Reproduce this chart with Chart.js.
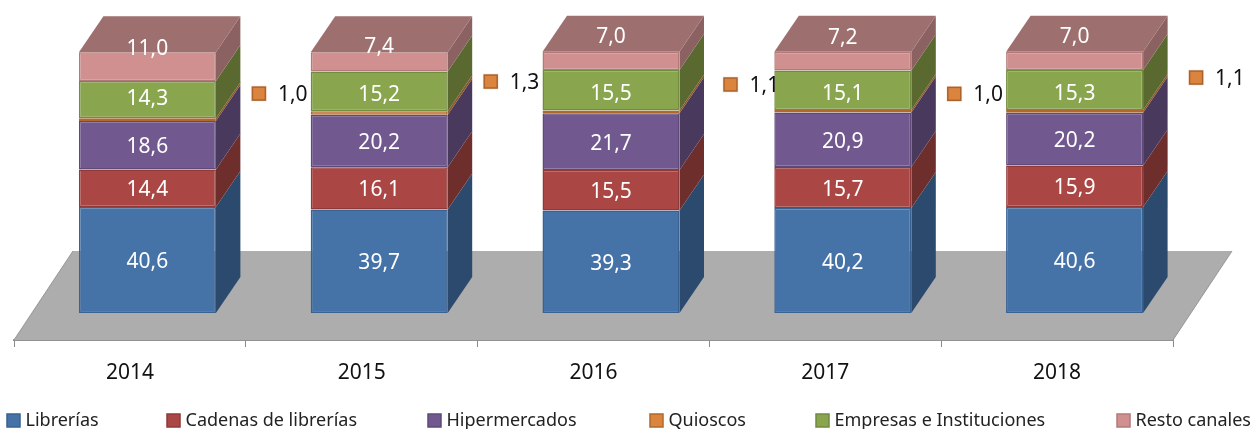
<!DOCTYPE html>
<html><head><meta charset="utf-8">
<style>html,body{margin:0;padding:0;background:#fff;overflow:hidden}canvas{display:block}</style>
<script src="https://cdn.jsdelivr.net/npm/chart.js@4"></script>
</head><body><canvas id="c" width="1256" height="429"></canvas>
<script>
const years = ['2014','2015','2016','2017','2018'];
const librerias = [40.6,39.7,39.3,40.2,40.6];
const cadenas = [14.4,16.1,15.5,15.7,15.9];
const hipermercados = [18.6,20.2,21.7,20.9,20.2];
const quioscos = [1.0,1.3,1.1,1.0,1.1];
const empresas = [14.3,15.2,15.5,15.1,15.3];
const resto = [11.0,7.4,7.0,7.2,7.0];
const seriesNames = ['Librerías','Cadenas de librerías','Hipermercados','Quioscos','Empresas e Instituciones','Resto canales'];

const FONT = '"Noto Sans"';
const fills  = ['#4573A8','#AA4643','#71588F','#DB843D','#89A54E','#D09090'];
const edges  = ['#3A6290','#8F3A38','#5E4979','#B0682C','#728B40','#B27A7A'];
const sides  = ['#2C4A6E','#6E2E2C','#49395D','#8F5628','#59692F','#8B6161'];
const topFace = '#9E6F6F';
const DX = 24.5, DY = 36, BAR_SHIFT = 17.5;
const FLOOR_DX = 59, FLOOR_DY = 89;
// hand-placed label nudges and legend slots from the reference
const topLabelNudge = [-18,-15,-24,-23,-24];
const greenLabelNudge = [-1,4,4,4,4];
const keyNudgeX = [43,43,51,43,53];
const keyNudgeY = [-26,-31.4,-27.4,-17.4,-33.8];
const legendSlots = [7,167,428,650,816,1117];
const fmt = v => v.toFixed(1).replace('.',',');

const three = {
  id:'three',
  beforeDatasetsDraw(chart){
    const {ctx, chartArea:a} = chart;
    ctx.save();
    ctx.beginPath();
    ctx.moveTo(a.left,a.bottom);ctx.lineTo(a.right,a.bottom);
    ctx.lineTo(a.right+FLOOR_DX,a.bottom-FLOOR_DY);ctx.lineTo(a.left+FLOOR_DX,a.bottom-FLOOR_DY);
    ctx.closePath();
    ctx.fillStyle='#ADADAD';ctx.fill();
    ctx.beginPath();
    ctx.moveTo(a.left,a.bottom);ctx.lineTo(a.left+FLOOR_DX,a.bottom-FLOOR_DY);
    ctx.moveTo(a.right,a.bottom);ctx.lineTo(a.right+FLOOR_DX,a.bottom-FLOOR_DY);
    ctx.strokeStyle='#959595';ctx.lineWidth=1;ctx.stroke();
    ctx.restore();
    ctx.save();
    ctx.translate(BAR_SHIFT,0);
    chart.data.datasets.forEach((ds,i)=>{
      chart.getDatasetMeta(i).data.forEach(bar=>{
        const r=bar.x+bar.width/2,l=bar.x-bar.width/2;
        ctx.beginPath();
        ctx.moveTo(r,bar.base);ctx.lineTo(r+DX,bar.base-DY);ctx.lineTo(r+DX,bar.y-DY);ctx.lineTo(r,bar.y);ctx.closePath();
        ctx.fillStyle=sides[i];ctx.fill();
        if(i===chart.data.datasets.length-1){
          ctx.beginPath();
          ctx.moveTo(l,bar.y);ctx.lineTo(r,bar.y);ctx.lineTo(r+DX,bar.y-DY);ctx.lineTo(l+DX,bar.y-DY);ctx.closePath();
          ctx.fillStyle=topFace;ctx.fill();
        }
      });
    });
  },
  afterDatasetsDraw(chart){
    const {ctx}=chart;
    ctx.textAlign='center';ctx.textBaseline='middle';
    ctx.font='21px '+FONT;
    chart.data.datasets.forEach((ds,i)=>{
      chart.getDatasetMeta(i).data.forEach((bar,j)=>{
        const cy=(bar.y+bar.base)/2;
        if(i===3){
          const mx=bar.x+bar.width/2+keyNudgeX[j], my=cy+keyNudgeY[j];
          ctx.fillStyle='#FBEDE2';ctx.fillRect(mx-8,my-8,16,16);
          ctx.fillStyle=fills[3];ctx.fillRect(mx-6.5,my-6.5,13,13);
          ctx.strokeStyle='#A9622C';ctx.lineWidth=1.5;ctx.strokeRect(mx-6.5,my-6.5,13,13);
          ctx.fillStyle='#111';ctx.textAlign='left';
          ctx.fillText(fmt(ds.data[j]),mx+19,my+1.5);
          ctx.textAlign='center';
        }else{
          const nudge = i===5 ? topLabelNudge[j] : i===4 ? greenLabelNudge[j] : 2;
          ctx.fillStyle='#fff';
          ctx.fillText(fmt(ds.data[j]),bar.x,cy+nudge);
        }
      });
    });
    ctx.restore();
    // legend row
    ctx.save();
    ctx.font='18px '+FONT;ctx.textAlign='left';ctx.textBaseline='middle';
    const y=420.5;
    seriesNames.forEach((n,i)=>{
      const x=legendSlots[i];
      ctx.fillStyle=fills[i];ctx.fillRect(x,y-6.5,13,13);
      ctx.strokeStyle=edges[i];ctx.lineWidth=1.5;ctx.strokeRect(x,y-6.5,13,13);
      ctx.fillStyle='#222';ctx.fillText(n,x+18.5,y);
    });
    ctx.restore();
  }
};

new Chart(document.getElementById('c'),{
  type:'bar',
  data:{labels:years,datasets:[librerias,cadenas,hipermercados,quioscos,empresas,resto].map((d,i)=>({
    label:seriesNames[i],data:d,backgroundColor:fills[i],borderColor:edges[i],borderWidth:1.5,borderSkipped:false,
    barPercentage:0.591,categoryPercentage:1,clip:false
  }))},
  options:{
    responsive:false,animation:false,devicePixelRatio:1,
    layout:{padding:{left:14,right:83,top:52,bottom:30.8}},
    plugins:{legend:{display:false},tooltip:{enabled:false}},
    scales:{
      x:{stacked:true,
        grid:{drawOnChartArea:false,drawTicks:true,tickLength:7,color:'#8A8A8A',lineWidth:1,offset:true},
        border:{display:true,color:'#929292',width:2},
        ticks:{color:'#111',font:{family:FONT,size:21},padding:13,maxRotation:0}},
      y:{stacked:true,display:false,min:-10.345,max:100}
    }
  },
  plugins:[three]
});
</script></body></html>
